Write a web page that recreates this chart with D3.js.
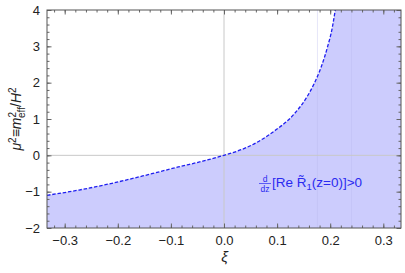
<!DOCTYPE html>
<html>
<head>
<meta charset="utf-8">
<script src="https://cdn.jsdelivr.net/npm/d3@7"></script>
<style>
  body { margin: 0; background: #fff; }
  text { font-family: "Liberation Sans", Arial, sans-serif; }
</style>
</head>
<body>
<div class="chart"></div>
<script>
// boundary curve
var xiVals = [-0.3333, -0.273, -0.211, -0.148, -0.086, -0.04, 0.0, 0.02, 0.056, 0.094, 0.131, 0.155, 0.17, 0.183, 0.1945, 0.204, 0.2095];
var muVals = [-1.10, -0.955, -0.77, -0.55, -0.32, -0.16, 0.0, 0.09, 0.31, 0.66, 1.12, 1.58, 1.98, 2.43, 2.96, 3.52, 4.0];
var xTicks = [-0.3, -0.2, -0.1, 0.0, 0.1, 0.2, 0.3];
var yTicks = [-2, -1, 0, 1, 2, 3, 4];
var artifactXi = [0.176, 0.24];

var margin = { top: 10, right: 4, bottom: 45, left: 47 },
  width = 405 - margin.left - margin.right,
  height = 273 - margin.top - margin.bottom;

var svg = d3
  .select(".chart")
  .append("svg")
  .attr("width", 405)
  .attr("height", 273)
  .append("g")
  .attr("transform", "translate(" + margin.left + "," + margin.top + ")");

var x = d3.scaleLinear().domain([-1 / 3, 1 / 3]).range([0, width]);
var y = d3.scaleLinear().domain([-2, 4]).range([height, 0]);

var pts = xiVals.map(function (d, i) {
  return [d, muVals[i]];
});

svg.append("defs").append("clipPath").attr("id", "clip")
  .append("rect").attr("width", width).attr("height", height);

var plot = svg.append("g").attr("clip-path", "url(#clip)");

var curvePath = d3.line()
  .x(function (d) { return x(d[0]); })
  .y(function (d) { return y(d[1]); })
  .curve(d3.curveMonotoneX);

// shaded region: below the curve, and everything right of its top end
plot.append("path")
  .attr("d", curvePath(pts) + "L" + x(1 / 3) + "," + y(4) + "L" + x(1 / 3) + "," + y(-2) + "L" + x(-1 / 3) + "," + y(-2) + "Z")
  .style("fill", "#ccccfd")
  .style("stroke", "none");

// faint mesh lines
plot.selectAll(".art")
  .data(artifactXi)
  .enter()
  .append("line")
  .attr("x1", function (d) { return x(d); })
  .attr("x2", function (d) { return x(d); })
  .attr("y1", 0)
  .attr("y2", height)
  .style("stroke", "#b8b8ee")
  .style("stroke-opacity", 0.35)
  .style("stroke-width", 1);

// zero grid lines
plot.append("line")
  .attr("x1", x(0)).attr("x2", x(0)).attr("y1", 0).attr("y2", height)
  .style("stroke", "#c8c8c8").style("stroke-width", 1);
plot.append("line")
  .attr("x1", 0).attr("x2", width).attr("y1", y(0)).attr("y2", y(0))
  .style("stroke", "#c8c8c8").style("stroke-width", 1);

plot.append("path")
  .attr("d", curvePath(pts))
  .style("fill", "none")
  .style("stroke", "#1f1ff0")
  .style("stroke-width", 1.3)
  .style("stroke-dasharray", "3.5,1.8");

// frame ticks (inward)
var xMinor = d3.range(-0.32, 0.3301, 0.02);
var yMinor = d3.range(-2, 4.001, 0.2);

function frameAxis(axis, g, major, minor) {
  g.call(axis.tickValues(minor).tickSize(-2.5).tickFormat(""));
  g.selectAll(".domain").remove();
  var gm = g.append("g");
  gm.call(axis.tickValues(major).tickSize(-4.5));
  gm.selectAll(".domain").remove();
  return gm;
}

var bottomG = svg.append("g").attr("transform", "translate(0," + height + ")");
var bm = frameAxis(d3.axisBottom(x), bottomG, xTicks, xMinor);
bm.call(d3.axisBottom(x).tickValues(xTicks).tickSize(-4.5).tickPadding(8)
  .tickFormat(function (d) { return d3.format(".1f")(d).replace("-", "\u2212"); }));
bm.selectAll(".domain").remove();

var topG = svg.append("g");
frameAxis(d3.axisTop(x), topG, xTicks, xMinor).selectAll("text").remove();

var leftG = svg.append("g");
var lm = frameAxis(d3.axisLeft(y), leftG, yTicks, yMinor);
lm.call(d3.axisLeft(y).tickValues(yTicks).tickSize(-4.5).tickPadding(7)
  .tickFormat(function (d) { return String(d).replace("-", "\u2212"); }));
lm.selectAll(".domain").remove();

var rightG = svg.append("g").attr("transform", "translate(" + width + ",0)");
frameAxis(d3.axisRight(y), rightG, yTicks, yMinor).selectAll("text").remove();

svg.selectAll(".tick line").style("stroke", "#666");
svg.selectAll(".tick text").style("font-size", "13px").style("fill", "#222")
  .style("font-family", "'Liberation Sans', Arial, sans-serif");

// frame box
svg.append("rect")
  .attr("width", width).attr("height", height)
  .style("fill", "none").style("stroke", "#555").style("stroke-width", 1);

// axis titles
svg.append("text")
  .attr("x", width / 2 + 0.5)
  .attr("y", height + 34)
  .style("text-anchor", "middle")
  .style("font-size", "15px")
  .style("font-style", "italic")
  .style("fill", "#222")
  .text("\u03be");

var yl = svg.append("text")
  .attr("transform", "translate(-26," + height / 2 + ") rotate(-90)")
  .style("text-anchor", "middle")
  .style("font-size", "14px")
  .style("fill", "#222");
yl.append("tspan").style("font-style", "italic").text("\u03bc");
yl.append("tspan").attr("dy", -5).style("font-size", "10px").text("2");
yl.append("tspan").attr("dy", 5).text("\u2261");
yl.append("tspan").style("font-style", "italic").text("m");
yl.append("tspan").attr("dy", -5).style("font-size", "10px").text("2");
yl.append("tspan").attr("dx", -6).attr("dy", 9).style("font-size", "10px").text("eff");
yl.append("tspan").attr("dy", -4).text("/");
yl.append("tspan").style("font-style", "italic").text("H");
yl.append("tspan").attr("dy", -5).style("font-size", "10px").text("2");

// annotation
var ax = 259 - margin.left, ay = 187 - margin.top;
var ann = svg.append("g").style("fill", "#2a2af0");
ann.append("text").attr("x", ax + 6).attr("y", ay - 5).style("font-size", "8.5px")
  .style("text-anchor", "middle").text("d");
ann.append("line").attr("x1", ax).attr("x2", ax + 12).attr("y1", ay - 3.5).attr("y2", ay - 3.5)
  .style("stroke", "#2a2af0").style("stroke-width", 0.7);
ann.append("text").attr("x", ax + 6).attr("y", ay + 4.5).style("font-size", "8.5px")
  .style("text-anchor", "middle").text("dz");
var at = ann.append("text").attr("x", ax + 13).attr("y", ay).style("font-size", "13.5px");
at.append("tspan").text("[Re R\u0303");
at.append("tspan").attr("dy", 3).style("font-size", "9.5px").text("1");
at.append("tspan").attr("dy", -3).text("(z=0)]>0");
</script>
</body>
</html>
